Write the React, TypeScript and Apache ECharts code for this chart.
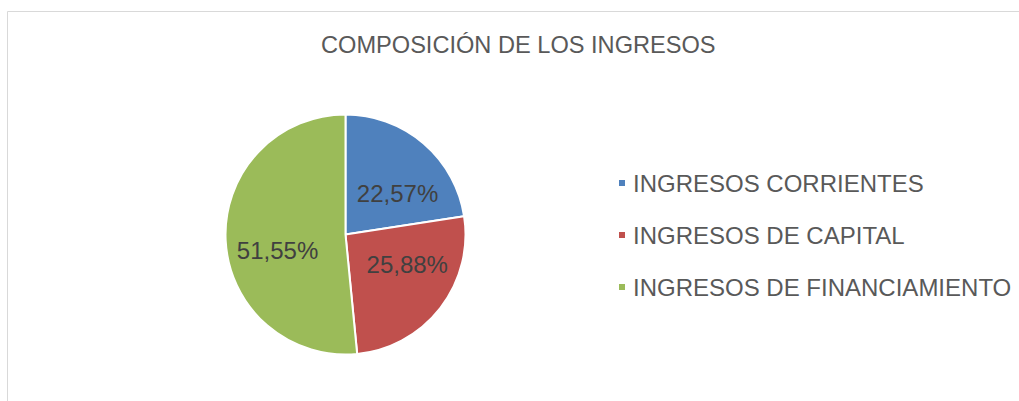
import React, { useEffect, useRef } from "react";
import * as echarts from "echarts";

const titleText = "COMPOSICIÓN DE LOS INGRESOS";
const categories = ["INGRESOS CORRIENTES", "INGRESOS DE CAPITAL", "INGRESOS DE FINANCIAMIENTO"];
const shares = [22.57, 25.88, 51.55];
const colors = ["#4F81BD", "#C0504D", "#9BBB59"];
const labelShift = [
  [11, 7],
  [12, -9],
  [-5, 13],
];

export default function App() {
  const ref = useRef<HTMLDivElement>(null);
  useEffect(() => {
    if (!ref.current) return;
    const chart = echarts.init(ref.current, null, { renderer: "svg" });
    chart.setOption({
      animation: false,
      backgroundColor: "#ffffff",
      graphic: [
        {
          type: "rect",
          shape: { x: 7.5, y: 11.5, width: 1200, height: 600 },
          style: { fill: "none", stroke: "#d9d9d9", lineWidth: 1 },
          silent: true,
          z: -10,
        },
      ],
      title: {
        text: titleText,
        left: 321,
        top: 30,
        padding: 0,
        textStyle: {
          fontFamily: "Liberation Sans, Arial, sans-serif",
          fontSize: 23.6,
          fontWeight: "normal",
          color: "#595959",
          lineHeight: 30,
        },
      },
      legend: {
        orient: "vertical",
        left: 617,
        top: 168,
        padding: 0,
        icon: "rect",
        itemWidth: 8,
        itemHeight: 8,
        itemGap: 22,
        selectedMode: false,
        data: categories,
        textStyle: {
          fontFamily: "Liberation Sans, Arial, sans-serif",
          fontSize: 24,
          color: "#595959",
          lineHeight: 30,
          padding: [0, 0, 0, 2],
        },
      },
      series: [
        {
          type: "pie",
          center: [345.5, 234.5],
          radius: [0, 120],
          startAngle: 90,
          clockwise: true,
          avoidLabelOverlap: false,
          itemStyle: { borderColor: "#ffffff", borderWidth: 2 },
          label: {
            show: true,
            position: "inside",
            formatter: (p: any) => p.value.toFixed(2).replace(".", ",") + "%",
            fontFamily: "Liberation Sans, Arial, sans-serif",
            fontSize: 24,
            color: "#404040",
          },
          labelLine: { show: false },
          emphasis: { disabled: true },
          labelLayout: (p: any) => ({ dx: labelShift[p.dataIndex][0], dy: labelShift[p.dataIndex][1] }),
          data: categories.map((c, i) => ({ name: c, value: shares[i], itemStyle: { color: colors[i] } })),
        },
      ],
    });
    return () => chart.dispose();
  }, []);
  return <div ref={ref} style={{ position: "absolute", left: 0, top: 0, width: 1019, height: 401 }} />;
}
